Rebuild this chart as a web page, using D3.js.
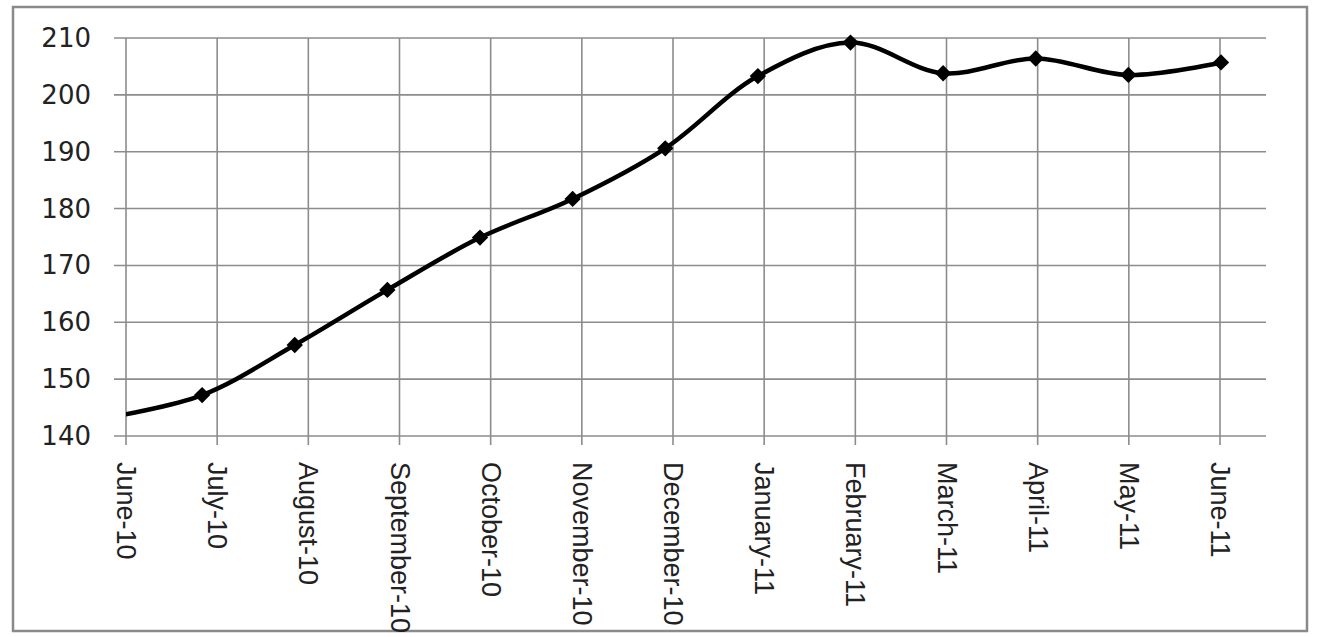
<!DOCTYPE html>
<html>
<head>
<meta charset="utf-8">
<script src="https://cdn.jsdelivr.net/npm/d3@7"></script>
<style>
  body { margin: 0; background: #fff; }
  svg { display: block; }
</style>
</head>
<body>
<svg id="chart" width="1317" height="637"></svg>
<script>
// chart data
const months = ['June-10', 'July-10', 'August-10', 'September-10', 'October-10', 'November-10',
  'December-10', 'January-11', 'February-11', 'March-11', 'April-11', 'May-11', 'June-11'];
const values = [143.3, 147.2, 156.0, 165.7, 174.9, 181.7, 190.6, 203.3, 209.2, 203.8, 206.4, 203.5, 205.7];
const yTicks = [140, 150, 160, 170, 180, 190, 200, 210];

const svg = d3.select('#chart');

// outer frame
svg.append('rect').attr('x', 13).attr('y', 7).attr('width', 1294).attr('height', 624)
  .attr('fill', '#fff').attr('stroke', '#8a8a8a').attr('stroke-width', 2.5);

const plotLeft = 126, plotRight = 1266, plotTop = 38, plotBottom = 436;

// category scale for grid + labels
const x = d3.scalePoint().domain(months).range([plotLeft, 1220]);
// the plotted series sits slightly off the category grid in the original
const xs = d3.scaleLinear().domain([0, months.length - 1]).range([109.5, 1221]);
const y = d3.scaleLinear().domain([140, 210]).range([plotBottom, plotTop]);

const grid = svg.append('g').attr('stroke', '#8c8c8c').attr('stroke-width', 1.6);

// horizontal grid lines with small ticks to the left
grid.selectAll('.hl').data(yTicks).join('line')
  .attr('x1', plotLeft - 12).attr('x2', plotRight)
  .attr('y1', d => y(d)).attr('y2', d => y(d));

// vertical grid lines with ticks under the axis
grid.selectAll('.vl').data(months).join('line')
  .attr('x1', d => x(d)).attr('x2', d => x(d))
  .attr('y1', plotTop).attr('y2', plotBottom + 9);

// y labels
svg.append('g').selectAll('text').data(yTicks).join('text')
  .attr('x', 91).attr('y', d => y(d))
  .attr('text-anchor', 'end').attr('dominant-baseline', 'central')
  .attr('font-family', 'DejaVu Sans, sans-serif').attr('font-size', 26)
  .attr('fill', '#222')
  .text(d => d);

// x labels, rotated to read downward
svg.append('g').selectAll('text').data(months).join('text')
  .attr('transform', d => 'translate(' + x(d) + ',462) rotate(90)')
  .attr('text-anchor', 'start').attr('dominant-baseline', 'central')
  .attr('font-family', 'Liberation Sans Narrow, Liberation Sans, sans-serif').attr('font-size', 27)
  .attr('fill', '#222')
  .text(d => d);

// clip the series to the plot area
svg.append('clipPath').attr('id', 'plotclip')
  .append('rect').attr('x', plotLeft).attr('y', 0).attr('width', plotRight - plotLeft).attr('height', 637);

const series = svg.append('g').attr('clip-path', 'url(#plotclip)');

const line = d3.line()
  .x((d, i) => xs(i))
  .y(d => y(d))
  .curve(d3.curveCatmullRom.alpha(0.5));

series.append('path').datum(values)
  .attr('d', line)
  .attr('fill', 'none').attr('stroke', '#000').attr('stroke-width', 4.5);

series.selectAll('.pt').data(values).join('path')
  .attr('transform', (d, i) => 'translate(' + xs(i) + ',' + y(d) + ')')
  .attr('d', d3.symbol(d3.symbolDiamond2, 170))
  .attr('fill', '#000');
</script>
</body>
</html>
